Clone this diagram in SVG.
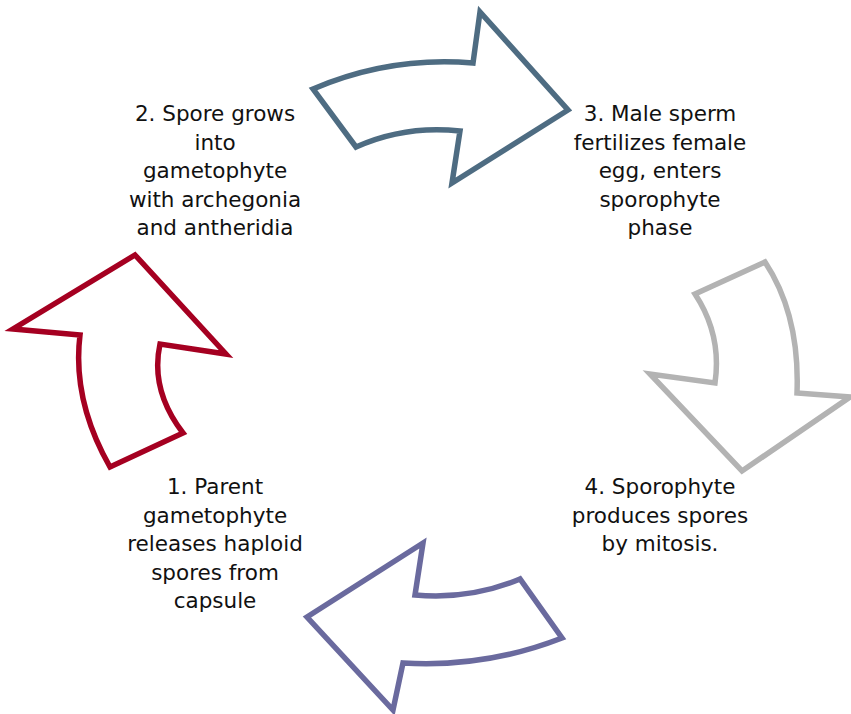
<svg xmlns="http://www.w3.org/2000/svg" width="851" height="714" viewBox="0 0 851 714">
<style>
.lbl{font-family:"DejaVu Sans","Liberation Sans",sans-serif;font-size:21.5px;fill:#111;text-anchor:middle}
.arr{fill:#fff;stroke-width:5.5;stroke-linejoin:miter}
</style>
<rect width="851" height="714" fill="#fff"/>
<g id="connectors">
<path id="arrow-2-3" class="arr" stroke="#4E6C82" d="M313,89 Q390,56 473,63 L480,12 L568,110 L452,183 L460,131 Q405,125 356,147 Z"/>
<path id="arrow-3-4" class="arr" stroke="#B3B3B3" d="M695,294 L765,262 Q800,315 797,393 L850,397 L742,471 L650,374 L715,383 Q722,335 695,294 Z"/>
<path id="arrow-4-1" class="arr" stroke="#6A6A9E" d="M423,543 L415,595 Q470,600 520,579 L562,638 Q485,668 403,663 L393,710 L307,617 Z"/>
<path id="arrow-1-2" class="arr" stroke="#A50021" d="M135,255 L226,354 L160,344 Q150,390 183,433 L110,467 Q72,400 80,335 L13,329 Z"/>
</g>
<g id="node-1"><text class="lbl" x="215" y="494">1. Parent<tspan x="215" dy="28.5">gametophyte</tspan><tspan x="215" dy="28.5">releases haploid</tspan><tspan x="215" dy="28.5">spores from</tspan><tspan x="215" dy="28.5">capsule</tspan></text></g>
<g id="node-2"><text class="lbl" x="215" y="121">2. Spore grows<tspan x="215" dy="28.5">into</tspan><tspan x="215" dy="28.5">gametophyte</tspan><tspan x="215" dy="28.5">with archegonia</tspan><tspan x="215" dy="28.5">and antheridia</tspan></text></g>
<g id="node-3"><text class="lbl" x="660" y="121">3. Male sperm<tspan x="660" dy="28.5">fertilizes female</tspan><tspan x="660" dy="28.5">egg, enters</tspan><tspan x="660" dy="28.5">sporophyte</tspan><tspan x="660" dy="28.5">phase</tspan></text></g>
<g id="node-4"><text class="lbl" x="660" y="494">4. Sporophyte<tspan x="660" dy="28.5">produces spores</tspan><tspan x="660" dy="28.5">by mitosis.</tspan></text></g>
</svg>
